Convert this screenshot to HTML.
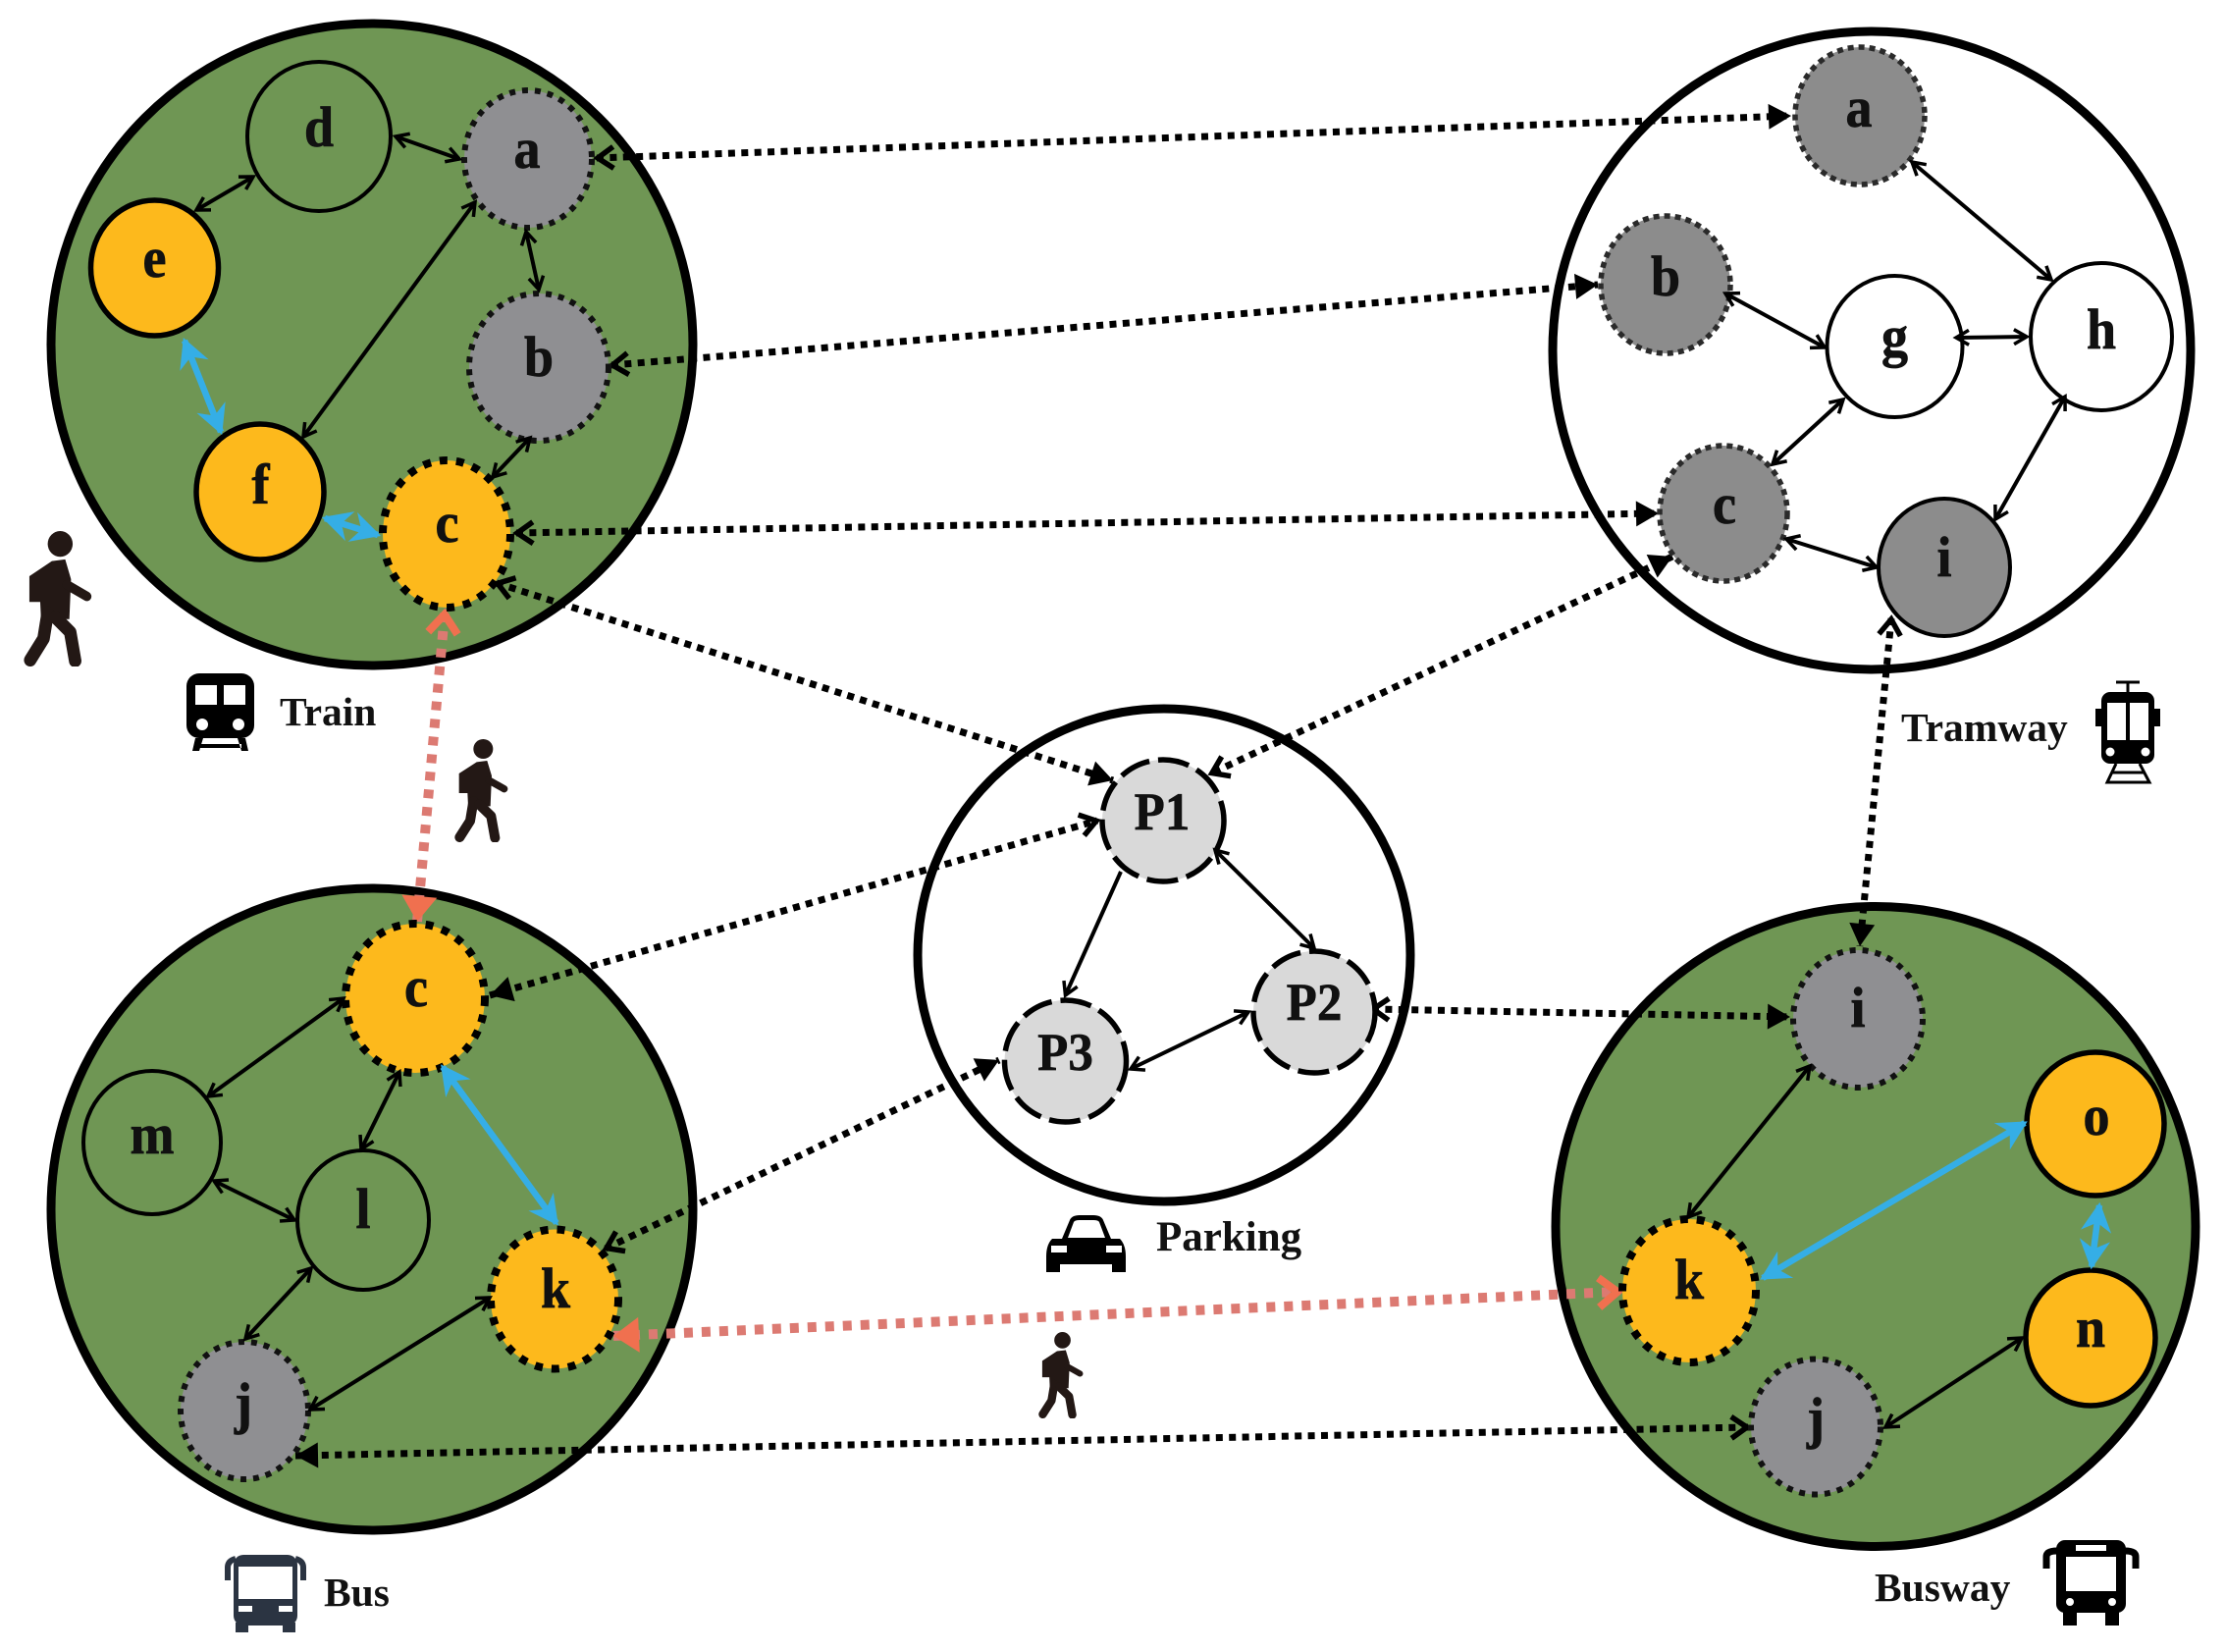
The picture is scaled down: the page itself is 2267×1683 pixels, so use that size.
<!DOCTYPE html>
<html><head><meta charset="utf-8"><title>Multimodal network</title>
<style>
html,body{margin:0;padding:0;background:#fff;width:2267px;height:1683px;overflow:hidden}
svg{display:block}
text{font-family:"Liberation Serif",serif;font-weight:bold;fill:#111}
.lt{font-size:54px;text-anchor:middle;stroke:#111;stroke-width:.7}
.pt{font-size:51px;text-anchor:middle;stroke:#111;stroke-width:.6}
.lb{font-size:41.5px}
.big{stroke:#000;stroke-width:9}
.thin{stroke:#000;stroke-width:4;fill:none;marker-start:url(#o);marker-end:url(#o)}
.blue{stroke:#35aee6;stroke-width:6.5;fill:none;marker-start:url(#bl);marker-end:url(#bl)}
.dot{stroke:#000;stroke-width:7;stroke-dasharray:7 6.4;fill:none}
.sal{stroke:#dc7a72;stroke-width:10;stroke-dasharray:9 9;fill:none}
.gd{fill:#8f8f92;stroke:#111;stroke-width:6;stroke-dasharray:6 7}
.td{fill:#8c8c8c;stroke:#2a2a2a;stroke-width:5.5;stroke-dasharray:6 5}
.od{fill:#fdb91c;stroke:#000;stroke-width:8;stroke-dasharray:8 9}
.os{fill:#fdb91c;stroke:#000;stroke-width:5.5}
.gn{fill:none;stroke:#000;stroke-width:4}
.wh{fill:#fff;stroke:#000;stroke-width:4}
.pk{fill:#d9d9d9;stroke:#000;stroke-width:5.5;stroke-dasharray:32 9}
</style></head>
<body>
<svg xmlns="http://www.w3.org/2000/svg" width="2267" height="1683" viewBox="0 0 2267 1683">
<defs>
<marker id="o" markerUnits="userSpaceOnUse" markerWidth="30" markerHeight="30" viewBox="-24 -15 30 30" refX="0" refY="0" orient="auto-start-reverse"><path d="M-13,-7.5 L0,0 L-13,7.5" fill="none" stroke="#000" stroke-width="3.5"/></marker>
<marker id="bl" markerUnits="userSpaceOnUse" markerWidth="40" markerHeight="40" viewBox="-30 -20 40 40" refX="0" refY="0" orient="auto-start-reverse"><path d="M-23,-12 L0,0 L-23,12 L-16,0 z" fill="#35aee6" stroke="#35aee6" stroke-width="3"/></marker>
<marker id="fo" markerUnits="userSpaceOnUse" markerWidth="40" markerHeight="40" viewBox="-30 -20 40 40" refX="0" refY="0" orient="auto-start-reverse"><path d="M-17,-11 L-1,0 L-17,11" fill="none" stroke="#000" stroke-width="5.5"/></marker>
<marker id="ff" markerUnits="userSpaceOnUse" markerWidth="40" markerHeight="40" viewBox="-30 -20 40 40" refX="0" refY="0" orient="auto-start-reverse"><path d="M-23,-13 L0,0 L-23,13 z" fill="#000"/></marker>
<marker id="so" markerUnits="userSpaceOnUse" markerWidth="50" markerHeight="50" viewBox="-36 -25 50 50" refX="0" refY="0" orient="auto-start-reverse"><path d="M-20,-15 L-1,0 L-20,15" fill="none" stroke="#f0704f" stroke-width="8"/></marker>
<marker id="sf" markerUnits="userSpaceOnUse" markerWidth="50" markerHeight="50" viewBox="-36 -25 50 50" refX="0" refY="0" orient="auto-start-reverse"><path d="M-26,-18 L0,0 L-26,18 z" fill="#f0704f"/></marker>
<symbol id="walk" viewBox="0 0 165 315" preserveAspectRatio="none">
<circle cx="88" cy="30" r="30" fill="#231815"/>
<path d="M14,105 L68,70 L100,66 L114,112 L110,205 L42,205 L40,165 L14,165 z" fill="#231815"/>
<g fill="none" stroke="#231815" stroke-linecap="round" stroke-linejoin="round">
<path d="M104,125 L152,152" stroke-width="22"/>
<path d="M58,190 L48,250 L16,300" stroke-width="30"/>
<path d="M76,200 L112,235 L124,302" stroke-width="30"/>
</g>
</symbol>
</defs>

<rect width="2267" height="1683" fill="#fff"/>

<!-- big circles -->
<circle class="big" cx="379" cy="351" r="327" fill="#6f9654"/>
<circle class="big" cx="379" cy="1232" r="327" fill="#6f9654"/>
<circle class="big" cx="1911" cy="1249.5" r="326" fill="#6f9654"/>
<circle class="big" cx="1907" cy="357" r="325" fill="#fff"/>
<ellipse class="big" cx="1186" cy="973" rx="251" ry="251" fill="#fff"/>

<!-- dotted connectors -->
<line class="dot" x1="608" y1="161" x2="1825" y2="118" marker-start="url(#fo)" marker-end="url(#ff)"/>
<line class="dot" x1="623" y1="372" x2="1628" y2="290" marker-start="url(#fo)" marker-end="url(#ff)"/>
<line class="dot" x1="526" y1="543" x2="1690" y2="523" marker-start="url(#fo)" marker-end="url(#ff)"/>
<line class="dot" x1="506" y1="594" x2="1134" y2="795" marker-start="url(#fo)" marker-end="url(#ff)"/>
<line class="dot" x1="1704" y1="567" x2="1234" y2="788" marker-start="url(#ff)" marker-end="url(#fo)"/>
<line class="dot" x1="499" y1="1014" x2="1118" y2="836" marker-start="url(#ff)" marker-end="url(#fo)"/>
<line class="dot" x1="617" y1="1272" x2="1018" y2="1080" marker-start="url(#fo)" marker-end="url(#ff)"/>
<line class="dot" x1="1398" y1="1028" x2="1824" y2="1036" marker-start="url(#fo)" marker-end="url(#ff)"/>
<line class="dot" x1="1927" y1="630" x2="1895" y2="964" marker-start="url(#fo)" marker-end="url(#ff)"/>
<line class="dot" x1="301" y1="1483" x2="1781" y2="1454" marker-start="url(#ff)" marker-end="url(#fo)"/>
<line class="sal" x1="453" y1="625" x2="425" y2="939" marker-start="url(#so)" marker-end="url(#sf)"/>
<line class="sal" x1="625" y1="1361" x2="1649" y2="1316" marker-start="url(#sf)" marker-end="url(#so)"/>

<!-- Train nodes -->
<ellipse class="gn" cx="325" cy="139" rx="73" ry="76"/>
<ellipse class="gd" cx="538" cy="162" rx="65" ry="70"/>
<ellipse class="os" cx="157.5" cy="273" rx="65" ry="69"/>
<ellipse class="gd" cx="549" cy="374" rx="71" ry="75"/>
<ellipse class="os" cx="265" cy="501" rx="65" ry="69"/>
<ellipse class="od" cx="455" cy="544" rx="65" ry="75"/>
<!-- Tram nodes -->
<ellipse class="td" cx="1895" cy="118" rx="66" ry="70"/>
<ellipse class="td" cx="1697" cy="290" rx="66" ry="70"/>
<ellipse class="wh" cx="1930.5" cy="353" rx="69" ry="72"/>
<ellipse class="wh" cx="2141" cy="343" rx="72" ry="75"/>
<ellipse class="td" cx="1756" cy="523" rx="65" ry="69"/>
<ellipse cx="1981" cy="578" rx="67" ry="70" fill="#8c8c8c" stroke="#000" stroke-width="4"/>
<!-- Parking nodes -->
<ellipse class="pk" cx="1185" cy="836" rx="62" ry="62"/>
<ellipse class="pk" cx="1339" cy="1031" rx="62" ry="62"/>
<ellipse class="pk" cx="1085.5" cy="1081" rx="62" ry="62"/>
<!-- Bus nodes -->
<ellipse class="od" cx="423" cy="1017" rx="71" ry="76"/>
<ellipse class="gn" cx="155" cy="1164" rx="70" ry="73"/>
<ellipse class="gn" cx="370" cy="1243" rx="67" ry="71"/>
<ellipse class="od" cx="565" cy="1323.5" rx="65" ry="71"/>
<ellipse class="gd" cx="249" cy="1437" rx="65" ry="70"/>
<!-- Busway nodes -->
<ellipse class="gd" cx="1893" cy="1038" rx="66" ry="70"/>
<ellipse class="os" cx="2135" cy="1145" rx="70" ry="73"/>
<ellipse class="od" cx="1721" cy="1315" rx="68" ry="73"/>
<ellipse class="os" cx="2130" cy="1363" rx="66" ry="69"/>
<ellipse class="gd" cx="1850" cy="1453.5" rx="66" ry="69"/>

<!-- thin arrows -->
<g>
<line class="thin" x1="403" y1="139" x2="468" y2="162"/>
<line class="thin" x1="258" y1="180" x2="200" y2="214"/>
<line class="thin" x1="536" y1="236" x2="549" y2="295"/>
<line class="thin" x1="484" y1="206" x2="309" y2="445"/>
<line class="thin" x1="540" y1="446" x2="502" y2="486"/>
<line class="thin" x1="1948" y1="165" x2="2090" y2="285"/>
<line class="thin" x1="1758" y1="299" x2="1859" y2="354"/>
<line class="thin" x1="1993" y1="344" x2="2065" y2="343"/>
<line class="thin" x1="1878" y1="407" x2="1806" y2="473"/>
<line class="thin" x1="2104" y1="404" x2="2033" y2="529"/>
<line class="thin" x1="1820" y1="549" x2="1912" y2="578"/>
<line stroke="#000" stroke-width="4" x1="1142" y1="888" x2="1085.5" y2="1014" marker-end="url(#o)"/>
<line class="thin" x1="1238" y1="866" x2="1339" y2="966"/>
<line class="thin" x1="1272" y1="1031" x2="1152" y2="1089"/>
<line class="thin" x1="350" y1="1017" x2="212" y2="1117"/>
<line class="thin" x1="407" y1="1092" x2="368" y2="1171"/>
<line class="thin" x1="218" y1="1203" x2="300" y2="1243"/>
<line class="thin" x1="317" y1="1292" x2="250" y2="1364"/>
<line class="thin" x1="499" y1="1322" x2="316" y2="1436"/>
<line class="thin" x1="1844" y1="1086" x2="1720" y2="1240"/>
<line class="thin" x1="1921" y1="1454" x2="2060" y2="1363"/>
<line class="blue" x1="188" y1="347" x2="225" y2="440"/>
<line class="blue" x1="331" y1="528" x2="385" y2="545"/>
<line class="blue" x1="451" y1="1087" x2="567" y2="1246"/>
<line class="blue" x1="2063" y1="1144" x2="1796" y2="1302"/>
<line class="blue" x1="2139" y1="1228" x2="2131" y2="1290"/>
</g>

<!-- node labels -->
<text class="lt" transform="translate(325,149) scale(1,1.07)">d</text>
<text class="lt" transform="translate(537,171) scale(1,1.07)">a</text>
<text class="lt" transform="translate(157.5,282) scale(1,1.07)">e</text>
<text class="lt" transform="translate(549,383) scale(1,1.07)">b</text>
<text class="lt" transform="translate(265.5,513) scale(1,1.07)">f</text>
<text class="lt" transform="translate(455.5,552) scale(1,1.07)">c</text>

<text class="lt" transform="translate(1894,129) scale(1,1.07)">a</text>
<text class="lt" transform="translate(1697,301) scale(1,1.07)">b</text>
<text class="lt" transform="translate(1930.5,362) scale(1,1.07)">g</text>
<text class="lt" transform="translate(2141,355) scale(1,1.07)">h</text>
<text class="lt" transform="translate(1757,533) scale(1,1.07)">c</text>
<text class="lt" transform="translate(1981,587) scale(1,1.07)">i</text>

<text class="pt" transform="translate(1184,845) scale(1,1.06)">P1</text>
<text class="pt" transform="translate(1339,1039) scale(1,1.06)">P2</text>
<text class="pt" transform="translate(1085.5,1090) scale(1,1.06)">P3</text>

<text class="lt" transform="translate(424,1025) scale(1,1.07)">c</text>
<text class="lt" transform="translate(155,1175) scale(1,1.07)">m</text>
<text class="lt" transform="translate(370,1251) scale(1,1.07)">l</text>
<text class="lt" transform="translate(566,1332) scale(1,1.07)">k</text>
<text class="lt" transform="translate(248,1449) scale(1,1.07)">j</text>

<text class="lt" transform="translate(1893,1046) scale(1,1.07)">i</text>
<text class="lt" transform="translate(2136,1156) scale(1,1.07)">o</text>
<text class="lt" transform="translate(1721,1323) scale(1,1.07)">k</text>
<text class="lt" transform="translate(2130,1372) scale(1,1.07)">n</text>
<text class="lt" transform="translate(1850,1464) scale(1,1.07)">j</text>

<!-- captions -->
<text class="lb" x="285" y="739">Train</text>
<text class="lb" x="1937" y="755">Tramway</text>
<text class="lb" x="1178" y="1274" style="font-size:43px">Parking</text>
<text class="lb" x="330" y="1636">Bus</text>
<text class="lb" x="1910" y="1631">Busway</text>

<!-- walkers -->
<use href="#walk" x="24" y="541" width="70" height="138"/>
<use href="#walk" x="463" y="753" width="55" height="105"/>
<use href="#walk" x="1058" y="1357" width="46" height="88"/>

<!-- train icon -->
<g>
<rect x="190" y="686" width="69" height="66" rx="13" fill="#000"/>
<rect x="199" y="698" width="22" height="20" fill="#fff"/>
<rect x="228" y="698" width="22" height="20" fill="#fff"/>
<circle cx="206" cy="738" r="6" fill="#fff"/>
<circle cx="243" cy="738" r="6" fill="#fff"/>
<path d="M199,752 L207,752 L203,765 L196,765 z M250,752 L242,752 L246,765 L253,765 z M203,758 H246 V762 H203 z" fill="#000"/>
</g>
<!-- tram icon -->
<g>
<path d="M2156,695 H2180 M2168,695 V708" stroke="#000" stroke-width="3" fill="none"/>
<rect x="2141" y="705" width="54" height="73" rx="9" fill="#000"/>
<rect x="2135" y="722" width="7" height="18" fill="#000"/>
<rect x="2194" y="722" width="7" height="18" fill="#000"/>
<rect x="2147" y="716" width="19" height="38" fill="#fff"/>
<rect x="2170" y="716" width="19" height="38" fill="#fff"/>
<circle cx="2150" cy="766" r="4.5" fill="#fff"/>
<circle cx="2186" cy="766" r="4.5" fill="#fff"/>
<path d="M2156,778 L2147,797 H2190 L2180,778 M2152,787 H2184" stroke="#000" stroke-width="3" fill="none"/>
</g>
<!-- car icon -->
<g>
<path d="M1082,1262 L1090,1243 Q1092,1238 1100,1238 H1114 Q1122,1238 1124,1243 L1132,1262 H1141 Q1147,1268 1147,1280 V1296 H1133 V1288 H1080 V1296 H1066 V1280 Q1066,1268 1072,1262 z" fill="#000"/>
<path d="M1088,1261 L1094,1245 Q1095,1243 1100,1243 H1114 Q1119,1243 1120,1245 L1126,1261 z" fill="#fff"/>
<rect x="1071" y="1269" width="16" height="7" fill="#fff"/>
<rect x="1127" y="1269" width="16" height="7" fill="#fff"/>
</g>
<!-- bus icon -->
<g>
<path d="M232,1610 V1597 Q232,1590 240,1588 M309,1610 V1597 Q309,1590 301,1588" stroke="#2b3442" stroke-width="6" fill="none"/>
<rect x="238" y="1584" width="65" height="72" rx="10" fill="#2b3442"/>
<rect x="243" y="1596" width="55" height="33" fill="#fff"/>
<rect x="243" y="1636" width="14" height="6" fill="#fff"/>
<rect x="284" y="1636" width="14" height="6" fill="#fff"/>
<rect x="240" y="1653" width="13" height="10" fill="#2b3442"/>
<rect x="288" y="1653" width="13" height="10" fill="#2b3442"/>
</g>
<!-- busway icon -->
<g>
<rect x="2095" y="1569" width="71" height="74" rx="9" fill="#000"/>
<path d="M2085,1598 V1586 Q2085,1580 2096,1580 M2176,1598 V1586 Q2176,1580 2165,1580" stroke="#000" stroke-width="7" fill="none"/>
<rect x="2105" y="1586" width="51" height="35" fill="#fff"/>
<rect x="2115" y="1574" width="31" height="6" fill="#fff"/>
<circle cx="2109" cy="1632" r="4" fill="#fff"/>
<circle cx="2152" cy="1632" r="4" fill="#fff"/>
<rect x="2102" y="1640" width="14" height="16" fill="#000"/>
<rect x="2145" y="1640" width="14" height="16" fill="#000"/>
</g>
</svg>
</body></html>
